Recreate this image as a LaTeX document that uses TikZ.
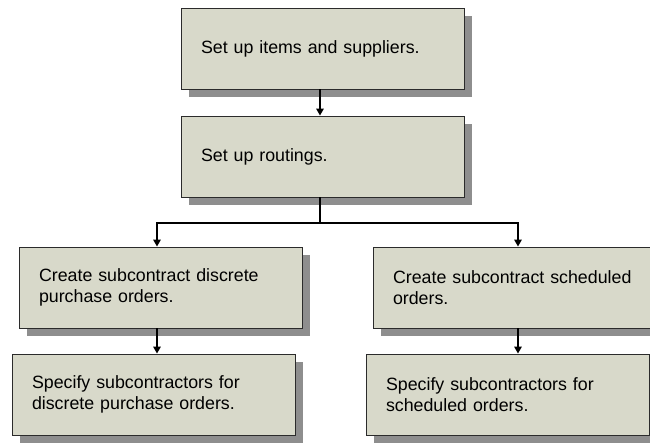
\documentclass[tikz,border=0pt]{standalone}
\usepackage{fontspec}
\setmainfont{Liberation Sans}
\usetikzlibrary{arrows.meta,shadows}
\definecolor{boxfill}{HTML}{D8D9CA}
\definecolor{boxline}{HTML}{2B2B2B}
\definecolor{shade}{HTML}{8E8E8E}
\tikzset{
  task/.style={rectangle, draw=boxline, line width=0.9pt, fill=boxfill,
    inner xsep=20pt, inner ysep=0pt, text width=243pt, minimum height=81pt,
    align=left, font=\fontsize{17.8}{20.5}\selectfont,
    drop shadow={shadow xshift=8pt, shadow yshift=-8pt, fill=shade, opacity=1}},
  link/.style={draw=black, line width=1.6pt},
  arr/.style={link, -{Triangle[length=7pt,width=7.5pt]}},
}
\begin{document}
\begin{tikzpicture}[x=1pt,y=-1pt]
  \useasboundingbox (0,0) rectangle (650,442);

  \node[task] (items)    at (322.5,48.5) {Set up items and suppliers.};
  \node[task] (routes)   at (322.5,156.5) {Set up routings.};
  \node[task] (discpo)   at (160.5,287.5) {Create subcontract discrete\\purchase orders.};
  \node[task] (discsub)  at (153.5,394.5) {Specify subcontractors for\\discrete purchase orders.};
  \node[task] (schedpo)  at (514.5,287.5) {Create subcontract scheduled\\orders.};
  \node[task] (schedsub) at (507.5,394.5) {Specify subcontractors for\\scheduled orders.};

  % branch points
  \coordinate (fork)  at (320,223);
  \coordinate (forkl) at (157,223);
  \coordinate (forkr) at (518,223);

  \draw[arr] (items.south -| fork) -- (routes.north -| fork);
  \draw[link] (routes.south -| fork) -- (fork);
  \draw[arr] (fork) -| (discpo.north -| forkl);
  \draw[arr] (fork) -| (schedpo.north -| forkr);
  \draw[arr] (discpo.south -| forkl) -- (discsub.north -| forkl);
  \draw[arr] (schedpo.south -| forkr) -- (schedsub.north -| forkr);
\end{tikzpicture}
\end{document}
